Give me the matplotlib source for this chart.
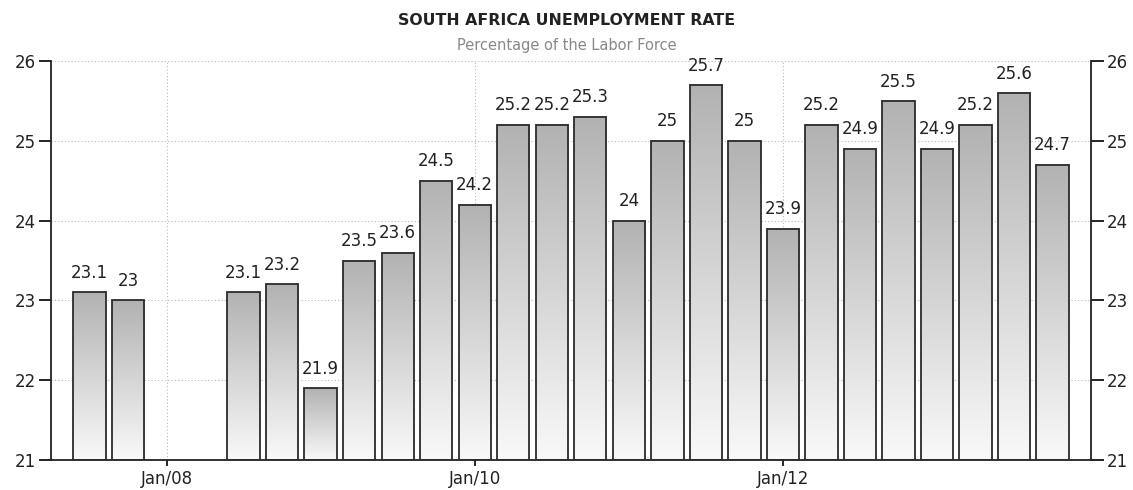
import numpy as np
import matplotlib
matplotlib.use("Agg")
import matplotlib.pyplot as plt
from matplotlib.colors import LinearSegmentedColormap

# quarterly unemployment rate, Jul/07 .. Oct/13 (two quarters without data)
quarters = list(range(-2, 24))
rates = [23.1, 23.0, None, None, 23.1, 23.2, 21.9, 23.5, 23.6, 24.5, 24.2,
         25.2, 25.2, 25.3, 24.0, 25.0, 25.7, 25.0, 23.9, 25.2, 24.9, 25.5,
         24.9, 25.2, 25.6, 24.7]
rate_labels = ["23.1", "23", "", "", "23.1", "23.2", "21.9", "23.5", "23.6",
               "24.5", "24.2", "25.2", "25.2", "25.3", "24", "25", "25.7",
               "25", "23.9", "25.2", "24.9", "25.5", "24.9", "25.2", "25.6",
               "24.7"]
xtick_pos = [0, 8, 16]
xtick_labels = ["Jan/08", "Jan/10", "Jan/12"]
yticks = [21, 22, 23, 24, 25, 26]

plt.rcParams['font.family'] = ['DejaVu Sans']

fig = plt.figure(figsize=(11.33, 4.90), dpi=100)
ax = fig.add_axes([0.045, 0.0612, 0.918, 0.8143])

ymin, ymax = 21, 26
width = 0.84
grad = LinearSegmentedColormap.from_list("g", ["#f9f9f9", "#b2b2b2"])
shade = np.linspace(0, 1, 256).reshape(-1, 1)

for q, v, lab in zip(quarters, rates, rate_labels):
    if v is None:
        continue
    x0 = q - width / 2
    ax.imshow(shade, cmap=grad, origin="lower", aspect="auto",
              extent=(x0, x0 + width, ymin, v), zorder=2)
    ax.bar(q, v - ymin, bottom=ymin, width=width, facecolor="none",
           edgecolor="#2b2b2b", linewidth=1.3, zorder=3)
    ax.text(q, v + 0.13, lab, ha="center", va="bottom", fontsize=12,
            color="#222222", zorder=4)

ax.set_xlim(-3, 24)
ax.set_ylim(ymin, ymax)

ax.set_xticks(xtick_pos)
ax.set_xticklabels(xtick_labels, fontsize=12, color="#222222")
ax.set_yticks(yticks)
ax.set_yticklabels([str(t) for t in yticks], fontsize=12, color="#222222")
ax.tick_params(axis="x", length=4, width=1.2, direction="out", pad=3)
ax.tick_params(axis="y", length=9, width=1.2, direction="out", pad=2,
               left=True, right=True, labelleft=True, labelright=True)

ax.grid(True, color="#b8b8b8", linestyle=(0, (1, 2)), linewidth=0.8, zorder=0)
ax.set_axisbelow(True)

for side in ["left", "right", "bottom"]:
    ax.spines[side].set_color("#222222")
    ax.spines[side].set_linewidth(1.3)
ax.spines["top"].set_visible(False)

fig.text(0.5, 0.958, "SOUTH AFRICA UNEMPLOYMENT RATE", ha="center",
         va="center", fontsize=11.3, fontweight="bold", color="#222222")
fig.text(0.5, 0.907, "Percentage of the Labor Force", ha="center",
         va="center", fontsize=10.5, color="#888888")

fig.savefig("out.png", dpi=100)
